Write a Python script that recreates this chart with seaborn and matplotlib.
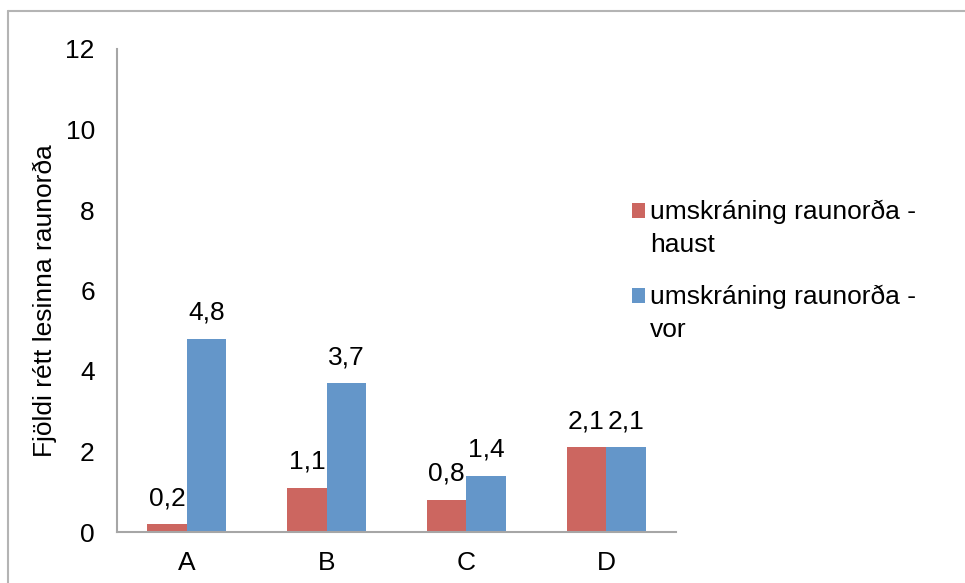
import matplotlib
matplotlib.use("Agg")
import matplotlib.pyplot as plt
from matplotlib.lines import Line2D
from matplotlib.patches import Rectangle
from matplotlib.legend_handler import HandlerPatch
import seaborn as sns
import pandas as pd

categories = ["A", "B", "C", "D"]
haust = [0.2, 1.1, 0.8, 2.1]
vor = [4.8, 3.7, 1.4, 2.1]
series_names = ["umskráning raunorða -\nhaust", "umskráning raunorða -\nvor"]
y_ticks = [0, 2, 4, 6, 8, 10, 12]
y_label = "Fjöldi rétt lesinna raunorða"

colors = ["#CC6660", "#6496C9"]
axis_gray = "#A6A6A6"

sns.set_theme(style="white")
plt.rcParams["font.family"] = ["Liberation Sans", "DejaVu Sans"]
for key in ["text.color", "axes.labelcolor", "xtick.labelcolor", "ytick.labelcolor"]:
    plt.rcParams[key] = "black"

df = pd.DataFrame({
    "flokkur": categories * 2,
    "gildi": haust + vor,
    "röð": [series_names[0]] * len(categories) + [series_names[1]] * len(categories),
})

W, H = 965, 583
fig = plt.figure(figsize=(W / 100, H / 100), dpi=100)
ax = fig.add_axes([117 / W, 1 - 532 / H, (676 - 117) / W, (532 - 49) / H])

sns.barplot(data=df, x="flokkur", y="gildi", hue="röð", order=categories,
            hue_order=series_names, palette=colors, width=0.566,
            saturation=1, ax=ax, linewidth=0)

fs = 19
ax.set_ylim(0, 12)
ax.set_xlim(-0.5, len(categories) - 0.5)
ax.set_yticks(y_ticks)
ax.set_yticklabels([str(t) for t in y_ticks], fontsize=fs)
ax.set_xticks(range(len(categories)))
ax.set_xticklabels(categories, fontsize=fs)
ax.set_xticks([i - 0.5 for i in range(len(categories) + 1)], minor=True)
ax.tick_params(axis="x", which="major", length=0, pad=14)
ax.tick_params(axis="x", which="minor", length=8, width=1.5, color=axis_gray, direction="out")
ax.tick_params(axis="y", length=7, width=1.5, color=axis_gray, direction="out", pad=9)
ax.set_xlabel("")
ax.set_ylabel(y_label, fontsize=fs)
ax.yaxis.set_label_coords(-0.108, 0.48)

for side in ["top", "right"]:
    ax.spines[side].set_visible(False)
for side in ["left", "bottom"]:
    ax.spines[side].set_color(axis_gray)
    ax.spines[side].set_linewidth(1.5)

for cont, vals in zip(ax.containers, [haust, vor]):
    ax.bar_label(cont, labels=[f"{v:.1f}".replace(".", ",") for v in vals],
                 padding=10, fontsize=fs)


# legend swatch sits level with the first line of its two-line label
def first_line_square(legend, orig_handle, xdescent, ydescent, width, height, fontsize):
    return Rectangle((-xdescent, -ydescent + 13), width, height)


leg = ax.legend(loc="upper left", bbox_to_anchor=(632 / W, 1 - 200 / H),
                bbox_transform=fig.transFigure, frameon=False, fontsize=fs,
                handlelength=0.49, handleheight=0.49, handletextpad=0.2,
                labelspacing=1.05, borderaxespad=0, borderpad=0,
                handler_map={Rectangle: HandlerPatch(patch_func=first_line_square)})
for t in leg.get_texts():
    t.set_linespacing(1.45)
    t.set_multialignment("left")

# chart area border
fig.add_artist(Line2D([8 / W, 8 / W], [0, 1 - 11 / H], transform=fig.transFigure,
                      color="#B4B4B4", linewidth=1.5))
fig.add_artist(Line2D([8 / W, 1], [1 - 11 / H, 1 - 11 / H], transform=fig.transFigure,
                      color="#B4B4B4", linewidth=1.5))

fig.savefig("out.png", dpi=100)
